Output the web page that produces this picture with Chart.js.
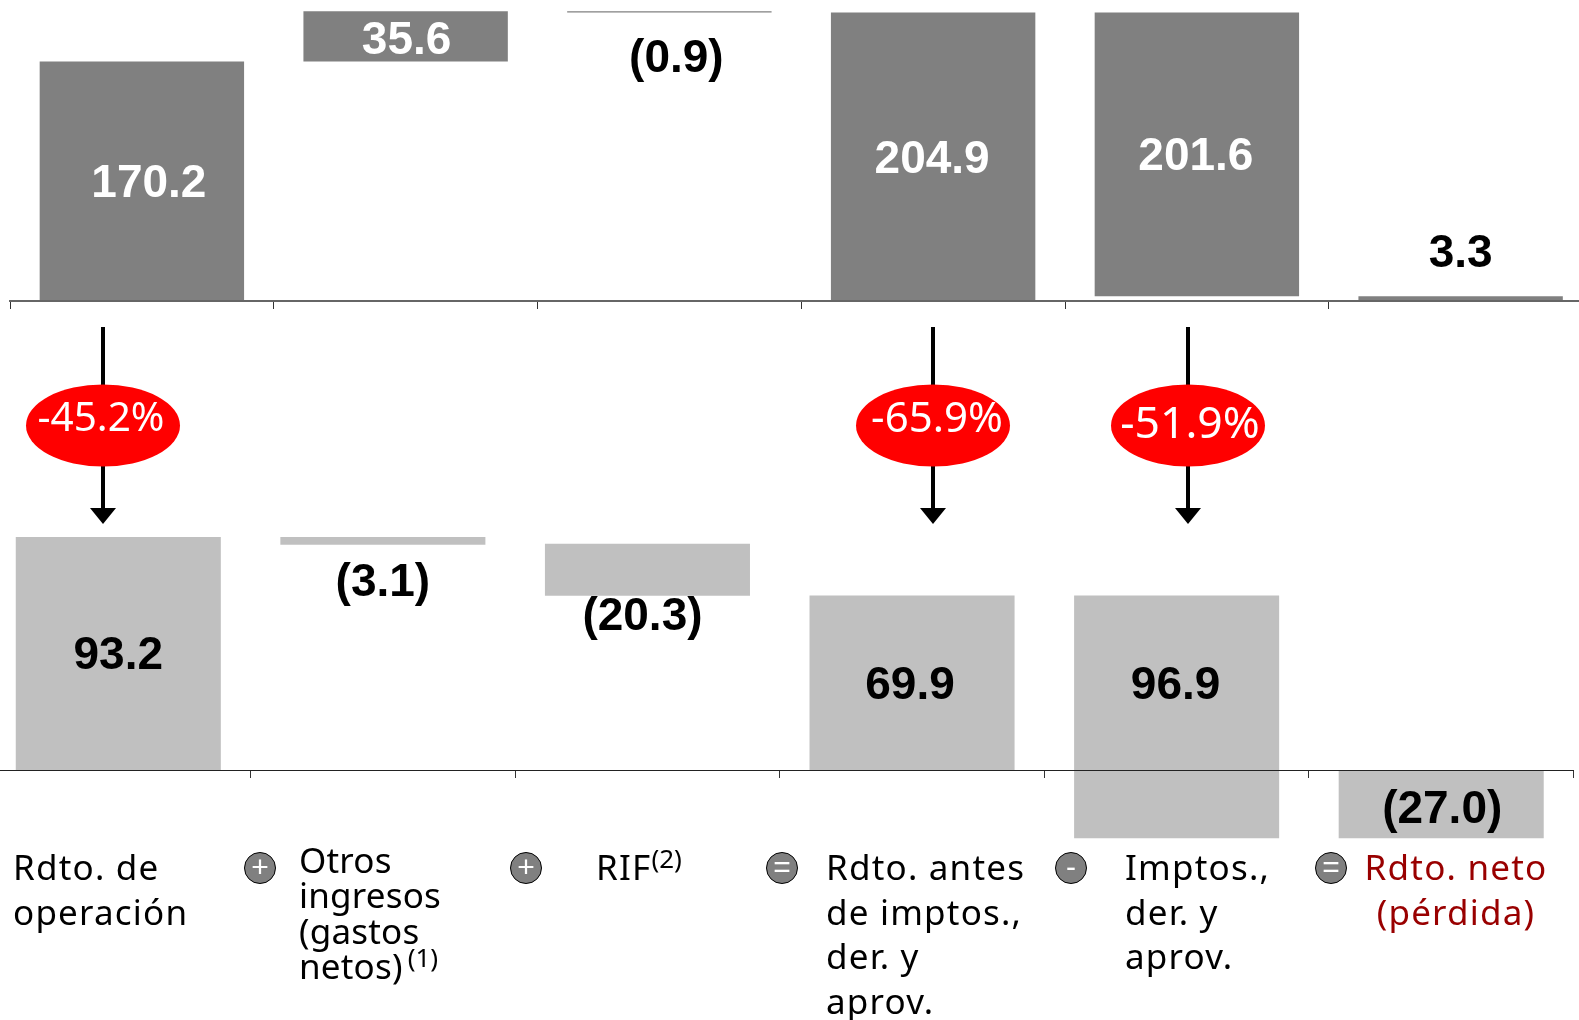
<!DOCTYPE html>
<html>
<head>
<meta charset="utf-8">
<script src="https://cdn.jsdelivr.net/npm/chart.js@4"></script>
<style>
    html, body { margin: 0; padding: 0; background: #fff; }
    body { position: relative; width: 1579px; height: 1020px; overflow: hidden; }
    canvas { position: absolute; }
    #chartTop { left: 5px; top: 0; }
    #chartBottom { left: -19px; top: 520px; }
    .cat { position: absolute; font-family: "Noto Sans", sans-serif; font-size: 35px; color: #000; white-space: nowrap; letter-spacing: 1.2px; }
    .cat sup { font-size: 26px; line-height: 0; vertical-align: 12px; letter-spacing: 0; }
    .sign {
        position: absolute; width: 30px; height: 30px; border: 1px solid #000; border-radius: 50%;
        background: #808080; color: #fff; font: 30px/28px "Liberation Sans", sans-serif; text-align: center;
    }
</style>
</head>
<body>
<canvas id="chartTop" width="1600" height="540"></canvas>
<canvas id="chartBottom" width="1600" height="500"></canvas>
<script>
// ===== DATA =====
const categories = ['Rdto. de operación', 'Otros ingresos (gastos netos)', 'RIF', 'Rdto. antes de imptos., der. y aprov.', 'Imptos., der. y aprov.', 'Rdto. neto (pérdida)'];

// floating bars, [from, to]
const topBars = [[0, 170.2], [170.2, 205.8], [204.9, 205.8], [0, 204.9], [3.3, 204.9], [0, 3.3]];
const topLabels = ['170.2', '35.6', '(0.9)', '204.9', '201.6', '3.3'];

const bottomBars = [[0, 93.2], [90.1, 93.2], [69.8, 90.5], [0, 69.9], [-27, 69.9], [-27, 0]];
const bottomLabels = ['93.2', '(3.1)', '(20.3)', '69.9', '96.9', '(27.0)'];

const changes = ['-45.2%', null, null, '-65.9%', '-51.9%', null];
const signs = ['+', '+', '=', '-', '='];

// ===== LAYOUT (label nudges relative to the bar centre) =====
const topLabelShift = [[7, 3], [1, 5], [7, 47], [-1, 4], [-1, 3], [0, -44]];
const topLabelColor = ['#fff', '#fff', '#000', '#fff', '#fff', '#000'];
const bottomLabelShift = [[0, 3], [0, 42], [-5, 48], [-2, 3], [-1, -30], [1, 6]];
const badgeShift = [-39, 0, 0, 0, -9, 0];
const badgeTextShift = [[-2, -6], null, null, [4, -5], [2, 0], null];
const badgeFont = [40.5, 0, 0, 42, 44.5, 0];
const signX = [260, 526, 782, 1071, 1331];

const categoryBlocks = [
    { lines: ['Rdto. de', 'operación'], left: 13, top: 843.5, lh: 45 },
    { lines: ['Otros', 'ingresos', '(gastos', 'netos)<sup style="margin-left:5px">(1)</sup>'], left: 299, top: 841.5, lh: 35.6, spacing: 0.2 },
    { lines: ['RIF<sup>(2)</sup>'], left: 596, top: 843.5, lh: 45 },
    { lines: ['Rdto. antes', 'de imptos.,', 'der. y', 'aprov.'], left: 826, top: 845, lh: 44.7 },
    { lines: ['Imptos.,', 'der. y', 'aprov.'], left: 1125, top: 845, lh: 44.7 },
    { lines: ['Rdto. neto', '(pérdida)'], left: 1364, top: 843.5, lh: 45, width: 184, color: '#990000', center: true }
];

// Value labels over the bars
function valueLabelsPlugin(labels, shifts, colors) {
    return {
        id: 'valueLabels',
        afterDatasetsDraw(chart) {
            const ctx = chart.ctx;
            const bars = chart.getDatasetMeta(0).data;
            ctx.save();
            ctx.font = 'bold 46px "Liberation Sans", Arial, sans-serif';
            ctx.textAlign = 'center';
            ctx.textBaseline = 'middle';
            labels.forEach((text, i) => {
                const bar = bars[i];
                ctx.fillStyle = colors ? colors[i] : '#000';
                ctx.fillText(text, bar.x + shifts[i][0], (bar.y + bar.base) / 2 + shifts[i][1]);
            });
            ctx.restore();
        }
    };
}

// Red change badges with their arrows, anchored on the category centres
const badgesPlugin = {
    id: 'badges',
    afterDraw(chart) {
        const ctx = chart.ctx;
        const x = chart.scales.x;
        ctx.save();
        changes.forEach((text, i) => {
            if (!text) return;
            const cx = Math.round(x.getPixelForValue(i) + badgeShift[i]);
            ctx.strokeStyle = '#000';
            ctx.fillStyle = '#000';
            ctx.lineWidth = 4;
            ctx.beginPath();
            ctx.moveTo(cx, 327);
            ctx.lineTo(cx, 510);
            ctx.stroke();
            ctx.beginPath();
            ctx.moveTo(cx - 13, 508);
            ctx.lineTo(cx + 13, 508);
            ctx.lineTo(cx, 524);
            ctx.closePath();
            ctx.fill();

            ctx.fillStyle = '#ff0000';
            ctx.beginPath();
            ctx.ellipse(cx, 425.5, 77, 41, 0, 0, Math.PI * 2);
            ctx.fill();

            ctx.fillStyle = '#fff';
            ctx.font = badgeFont[i] + 'px "Noto Sans", sans-serif';
            ctx.textAlign = 'center';
            ctx.textBaseline = 'middle';
            ctx.fillText(text, cx + badgeTextShift[i][0], 425.5 + badgeTextShift[i][1]);
        });
        ctx.restore();
    }
};

function buildChart(id, bars, color, yMin, yMax, padding, extraPlugins, axisColor, axisWidth) {
    return new Chart(document.getElementById(id), {
        type: 'bar',
        data: {
            labels: categories,
            datasets: [{
                data: bars,
                backgroundColor: color,
                borderWidth: 0,
                categoryPercentage: 1,
                barPercentage: 0.775
            }]
        },
        options: {
            responsive: false,
            animation: false,
            layout: { padding },
            plugins: { legend: { display: false }, tooltip: { enabled: false } },
            scales: {
                x: {
                    position: { y: 0 },
                    grid: { drawOnChartArea: false, offset: true, tickLength: 7, color: '#333', z: 1 },
                    border: { display: true, color: axisColor, width: axisWidth, z: 1 },
                    ticks: { display: false, autoSkip: false, z: 1 }
                },
                y: { display: false, min: yMin, max: yMax }
            }
        },
        plugins: extraPlugins
    });
}

// Top chart: baseline near y=301, bottom chart: near y=770
buildChart('chartTop', topBars, '#808080', -169.8, 213.8, { left: 5, right: 12.5, top: 0, bottom: 0 },
    [valueLabelsPlugin(topLabels, topLabelShift, topLabelColor), badgesPlugin], '#666', 2);
buildChart('chartBottom', bottomBars, '#c0c0c0', -99.6, 100, { left: 5, right: 7.5, top: 0, bottom: 0 },
    [valueLabelsPlugin(bottomLabels, bottomLabelShift)], '#222', 1);

// Captions under the chart
categoryBlocks.forEach(block => {
    block.lines.forEach((line, n) => {
        const el = document.createElement('div');
        el.className = 'cat';
        el.innerHTML = line;
        el.style.left = block.left + 'px';
        el.style.top = (block.top + n * block.lh) + 'px';
        el.style.lineHeight = block.lh + 'px';
        if (block.spacing !== undefined) el.style.letterSpacing = block.spacing + 'px';
        if (block.color) el.style.color = block.color;
        if (block.center) {
            el.style.width = block.width + 'px';
            el.style.textAlign = 'center';
        }
        document.body.appendChild(el);
    });
});

signs.forEach((sign, i) => {
    const el = document.createElement('div');
    el.className = 'sign';
    el.textContent = sign;
    el.style.left = (signX[i] - 16) + 'px';
    el.style.top = '852px';
    document.body.appendChild(el);
});
</script>
</body>
</html>
